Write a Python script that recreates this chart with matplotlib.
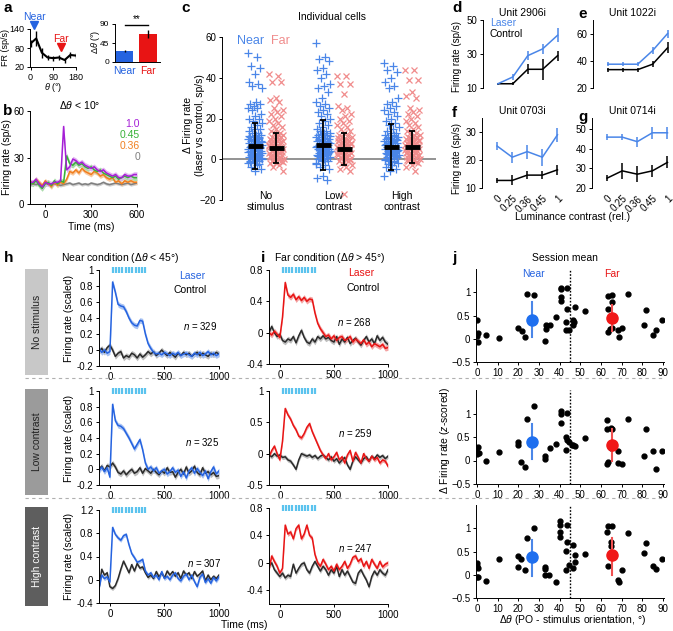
import matplotlib
matplotlib.use('Agg')
import matplotlib.pyplot as plt
from matplotlib.lines import Line2D
from matplotlib.patches import Rectangle
import numpy as np

plt.rcParams['font.family'] = ['Liberation Sans', 'DejaVu Sans']
plt.rcParams['mathtext.fontset'] = 'custom'
plt.rcParams['mathtext.rm'] = 'Liberation Sans'
plt.rcParams['mathtext.it'] = 'Liberation Sans:italic'

# colours
BLUE = '#2563E0'
BLUE_L = '#A9C3F3'
RED = '#E81414'
RED_L = '#F4A3A3'
PINK = '#F08C8C'
CBLUE = '#4A86E8'
GREY_L = '#BEBEBE'
CYAN = '#5BC3EE'

# ── data: panel a ───────────────────────────────────────
a_theta = [0, 22.5, 45, 67.5, 90, 112.5, 135, 157.5, 180]
a_fr = [94, 110, 65, 50, 48, 50, 42, 58, 56]
a_fr_err = [10, 25, 15, 8, 8, 8, 8, 10, 8]
a_groups = ['Near', 'Far']
a_dtheta = [26.5, 66.5]
a_dtheta_err = [2, 10]

# ── data: panel b ───────────────────────────────────────
b_time = list(range(-100, 601, 20))
b_labels = ['1.0', '0.45', '0.36', '0']
b_colors = ['#A51FD6', '#38B238', '#F07F1F', '#7F7F7F']
b_band = ['#E3B3F2', '#A9DDA9', '#F8C9A0', '#CFCFCF']
b_sem = [1.8, 1.8, 1.5, 1.0]
b_rates = [
    [14, 14, 16, 13, 11, 14, 13, 13, 14, 14, 15, 50, 22, 24, 29, 28, 26, 27,
     25, 24, 23, 24, 22, 21, 22, 20, 19, 18, 19, 17, 17, 19, 18, 18, 19, 19],
    [14, 13, 15, 12, 10, 13, 14, 12, 15, 13, 15, 14, 31, 26, 25, 27, 25, 26,
     24, 23, 24, 22, 21, 22, 20, 19, 18, 17, 18, 16, 17, 18, 17, 18, 17, 17],
    [15, 13, 16, 14, 12, 15, 13, 11, 14, 12, 14, 13, 16, 21, 20, 22, 20, 23,
     21, 20, 19, 21, 20, 18, 19, 17, 16, 17, 14, 15, 13, 15, 14, 15, 14, 14],
    [12, 13, 12.5, 13, 12, 13.5, 12.5, 12, 13, 12.5, 12, 12.5, 13, 13.5, 12.5, 13, 13.5, 12.5,
     13, 12.5, 13.5, 13, 12.5, 13, 14, 13, 12.5, 13, 13.5, 13, 12.5, 13, 13.5, 12.5, 13, 13.5],
]

# ── data: panel c ───────────────────────────────────────
c_conditions = ['No\nstimulus', 'Low\ncontrast', 'High\ncontrast']
c_near = [
    [52, 50, 46, 45, 42, 38, 37, 36, 35, 28, 27, 27, 26, 25, 25, 24, 22, 21, 20, 20, 19, 18,
     17, 16, 15, 15, 14, 13, 13, 12, 12, 11, 11, 10, 10, 10, 9, 9, 8, 8, 8, 7, 7, 7, 6, 6, 6,
     5, 5, 5, 4, 4, 4, 3, 3, 3, 2, 2, 2, 1, 1, 1, 0, 0, 0, -1, -1, -2, -2, -3, -4, -5, -6,
     11.5, 10.5, 9.5, 8.5, 7.5, 6.5, 5.5, 4.5, 3.5, 2.5, 1.5, 0.5, -0.5, -1.5, -2.5],
    [57, 50, 49, 48, 45, 44, 42, 40, 37, 36, 35, 33, 30, 28, 27, 26, 25, 24, 23, 22, 21, 20,
     19, 18, 17, 16, 15, 14, 14, 13, 13, 12, 12, 11, 11, 10, 10, 10, 9, 9, 9, 8, 8, 8, 7, 7,
     7, 6, 6, 6, 5, 5, 5, 4, 4, 4, 3, 3, 3, 2, 2, 2, 1, 1, 0, 0, -1, -1, -2, -3, -4, -5, -8,
     -9, -10, 12.5, 11.5, 10.5, 9.5, 8.5, 7.5, 6.5, 5.5, 4.5, 3.5, 2.5, 1.5, 0.5, -0.5, -2.5],
    [47, 46, 44, 43, 40, 38, 36, 35, 30, 28, 27, 26, 25, 24, 23, 22, 21, 20, 19, 18, 17, 16,
     15, 14, 13, 13, 12, 12, 11, 11, 10, 10, 10, 9, 9, 9, 8, 8, 8, 7, 7, 7, 6, 6, 6, 5, 5, 5,
     4, 4, 4, 3, 3, 3, 2, 2, 2, 1, 1, 0, 0, -1, -1, -2, -3, -4, -5, -6, -8,
     11.5, 10.5, 9.5, 8.5, 7.5, 6.5, 5.5, 4.5, 3.5, 2.5, 1.5, 0.5, -0.5, -1.5, -2.5],
]
c_far = [
    [42, 41, 38, 38, 30, 29, 28, 25, 24, 23, 22, 21, 20, 19, 18, 17, 16, 15, 14, 13, 13, 12,
     12, 11, 11, 10, 10, 10, 9, 9, 9, 8, 8, 8, 7, 7, 7, 6, 6, 6, 5, 5, 5, 4, 4, 4, 3, 3, 3,
     2, 2, 2, 1, 1, 1, 0, 0, -1, -1, -2, -2, -3, -4, -6,
     10.5, 9.5, 8.5, 7.5, 6.5, 5.5, 4.5, 3.5, 2.5, 1.5, 0.5, -0.5, -1.5],
    [41, 41, 37, 37, 32, 26, 25, 24, 22, 21, 20, 19, 18, 17, 16, 15, 14, 13, 12, 12, 11, 11,
     10, 10, 9, 9, 9, 8, 8, 8, 7, 7, 7, 6, 6, 6, 5, 5, 5, 4, 4, 4, 3, 3, 3, 2, 2, 2, 1, 1,
     0, 0, -1, -1, -2, -3, -4, -5, -6, -17,
     10.5, 9.5, 8.5, 7.5, 6.5, 5.5, 4.5, 3.5, 2.5, 1.5, 0.5, -0.5, -1.5],
    [44, 44, 39, 39, 33, 31, 30, 25, 24, 23, 22, 21, 20, 19, 18, 17, 16, 15, 14, 13, 13, 12,
     12, 11, 11, 10, 10, 10, 9, 9, 9, 8, 8, 8, 7, 7, 7, 6, 6, 6, 5, 5, 5, 4, 4, 4, 3, 3, 3,
     2, 2, 2, 1, 1, 0, 0, -1, -1, -2, -3, -4, -6,
     10.5, 9.5, 8.5, 7.5, 6.5, 5.5, 4.5, 3.5, 2.5, 1.5, 0.5, -0.5, -1.5],
]
c_near_mean = [6.5, 7.0, 6.0]
c_near_sd = [11.5, 12.5, 11.5]
c_far_mean = [5.5, 5.0, 6.0]
c_far_sd = [7.5, 8.0, 8.0]

# ── data: panels d-g ────────────────────────────────────
lum_labels = ['0', '0.25', '0.36', '0.45', '1']
units = ['Unit 2906i', 'Unit 1022i', 'Unit 0703i', 'Unit 0714i']
unit_laser = [[12.5, 16.5, 29, 33, 41], [37.5, 37.5, 37.5, 47.5, 60],
              [25, 21, 23, 21, 29], [45.8, 45.8, 43.5, 48, 48]]
unit_laser_err = [[0.5, 1.5, 2.5, 3, 4], [1.5, 1.5, 1.5, 2.5, 3],
                  [1.5, 2, 2.5, 3, 2.5], [1.5, 1.5, 2.5, 3, 3]]
unit_ctrl = [[12.5, 12.5, 21, 21, 29], [33.5, 33.5, 33.5, 37.5, 49.5],
             [12.7, 12.7, 14.6, 14.6, 16.5], [25, 28.7, 27, 28.7, 33]]
unit_ctrl_err = [[0.7, 1, 3, 6, 3], [1.5, 1.5, 1.5, 2, 4],
                 [1, 1.8, 1.5, 1.5, 1.8], [1.5, 4, 4, 3, 3]]
unit_ylim = [(10, 50), (20, 70), (10, 35), (20, 55.5)]
unit_yticks = [[10, 30, 50], [20, 40, 60], [10, 20, 30], [20, 30, 40, 50]]

# ── data: panels h, i (population PSTHs) ────────────────
psth_time = list(range(-100, 1001, 25))
row_names = ['No stimulus', 'Low contrast', 'High contrast']
near_n = [329, 325, 307]
far_n = [268, 259, 247]
laser_pulses = [25, 55, 85, 115, 145, 175, 205, 235, 265, 295, 325]
near_laser = [
    [0.02, -0.03, 0.0, -0.04, -0.02, 0.85, 0.72, 0.57, 0.55, 0.54, 0.48, 0.40, 0.34, 0.31,
     0.30, 0.37, 0.36, 0.20, 0.08, 0.02, -0.03, -0.05, -0.04, -0.06, -0.03, -0.05, -0.07,
     -0.04, -0.06, -0.03, -0.07, -0.05, -0.04, -0.06, -0.08, -0.04, -0.06, -0.03, -0.07,
     -0.05, -0.02, -0.06, -0.04, -0.07, -0.05],
    [-0.02, 0.03, -0.03, 0.02, -0.10, 0.83, 0.62, 0.56, 0.55, 0.52, 0.46, 0.40, 0.33, 0.26,
     0.32, 0.38, 0.25, 0.08, 0.0, 0.03, -0.02, 0.02, -0.05, -0.02, 0.0, -0.06, -0.03, 0.02,
     -0.04, -0.01, -0.09, -0.03, -0.11, -0.02, 0.02, -0.05, 0.01, -0.04, -0.08, -0.02,
     -0.12, -0.03, 0.03, -0.06, -0.02],
    [-0.15, 0.08, 0.02, 0.05, -0.04, 0.90, 0.78, 0.72, 0.68, 0.76, 0.78, 0.60, 0.45, 0.38,
     0.30, 0.32, 0.35, 0.15, 0.08, 0.12, 0.04, 0.08, 0.0, 0.14, 0.02, 0.06, 0.0, 0.08, 0.12,
     0.02, -0.02, 0.06, 0.10, 0.0, 0.08, -0.03, -0.12, 0.04, 0.10, -0.05, 0.02, -0.06, 0.04,
     -0.02, 0.05],
]
near_ctrl = [
    [-0.02, 0.02, -0.03, 0.03, 0.06, 0.0, -0.08, -0.04, -0.02, -0.10, -0.07, -0.09, -0.04,
     -0.06, -0.10, -0.05, -0.09, -0.06, -0.02, -0.05, -0.02, -0.07, -0.04, 0.0, -0.04,
     -0.07, -0.03, -0.06, -0.09, -0.04, -0.07, -0.03, -0.06, -0.04, -0.08, -0.05, -0.03,
     -0.07, -0.04, -0.06, -0.08, -0.04, -0.06, -0.03, -0.05],
    [0.0, 0.04, -0.02, 0.05, 0.03, 0.08, 0.03, -0.04, -0.06, -0.02, -0.07, -0.03, 0.0, -0.05,
     -0.03, 0.02, -0.05, 0.01, -0.02, -0.05, 0.0, -0.04, -0.07, -0.02, -0.05, 0.02, -0.04,
     -0.03, -0.10, -0.04, 0.0, -0.06, 0.03, -0.05, -0.02, 0.04, -0.04, -0.07, 0.02, -0.05,
     -0.03, -0.07, -0.04, -0.09, -0.08],
    [-0.15, 0.18, 0.08, 0.12, -0.12, -0.15, -0.10, 0.02, 0.18, 0.32, 0.22, 0.12, 0.26, 0.15,
     0.28, 0.20, 0.22, 0.12, 0.04, 0.08, 0.02, 0.14, 0.05, 0.12, 0.03, 0.15, 0.08, 0.14, 0.06,
     0.12, 0.02, 0.15, 0.08, 0.12, 0.02, 0.14, 0.06, 0.10, 0.15, -0.02, 0.08, 0.0, 0.06,
     0.02, 0.08],
]
far_laser = [
    [0.0, -0.03, 0.02, -0.02, -0.06, 0.20, 0.64, 0.48, 0.45, 0.49, 0.42, 0.46, 0.41, 0.45,
     0.40, 0.43, 0.42, 0.25, 0.12, 0.05, 0.0, -0.05, -0.03, -0.08, -0.04, -0.10, -0.06,
     -0.05, -0.10, -0.08, -0.05, -0.12, -0.08, -0.11, -0.14, -0.09, -0.15, -0.12, -0.18,
     -0.14, -0.16, -0.18, -0.15, -0.20, -0.19],
    [-0.05, 0.05, 0.12, 0.0, -0.10, 0.20, 0.72, 0.62, 0.55, 0.45, 0.38, 0.28, 0.25, 0.32,
     0.42, 0.48, 0.35, 0.25, 0.15, 0.05, -0.02, -0.08, 0.0, -0.10, -0.05, 0.02, -0.10,
     -0.05, -0.15, -0.02, 0.05, -0.12, 0.02, -0.06, -0.15, 0.0, -0.08, -0.12, -0.04, -0.10,
     -0.06, -0.15, -0.10, -0.12, -0.20],
    [-0.10, 0.10, 0.02, -0.05, -0.15, -0.08, 0.55, 0.42, 0.45, 0.35, 0.50, 0.55, 0.35, 0.42,
     0.55, 0.40, 0.36, 0.12, 0.0, -0.05, 0.05, -0.02, -0.10, -0.05, -0.12, -0.02, -0.10,
     -0.05, 0.02, -0.08, -0.02, 0.08, 0.10, 0.02, 0.06, -0.05, 0.02, -0.08, 0.05, -0.02,
     -0.08, 0.02, -0.06, -0.02, 0.0],
]
far_ctrl = [
    [0.0, 0.08, 0.0, -0.05, -0.02, -0.10, -0.12, -0.08, -0.10, -0.05, -0.13, -0.04, 0.03,
     -0.06, -0.12, -0.14, -0.08, -0.12, -0.05, -0.08, -0.04, -0.08, -0.06, -0.10, -0.12,
     -0.05, -0.15, -0.08, -0.12, -0.06, -0.14, -0.10, -0.07, -0.12, -0.16, -0.10, -0.05,
     -0.12, -0.08, -0.14, -0.04, -0.10, -0.06, -0.12, -0.15],
    [-0.02, -0.05, 0.0, -0.04, -0.02, -0.06, -0.05, -0.10, -0.12, -0.18, -0.25, -0.10, 0.0,
     -0.02, -0.04, -0.02, -0.06, -0.03, -0.08, -0.04, -0.02, -0.06, -0.10, -0.05, -0.12,
     -0.08, -0.15, -0.10, -0.06, -0.18, -0.25, -0.12, -0.05, -0.10, -0.15, -0.08, -0.05,
     -0.12, -0.04, -0.08, -0.02, -0.06, -0.03, -0.08, -0.04],
    [-0.05, 0.0, -0.10, -0.15, -0.20, -0.15, -0.22, -0.18, -0.20, -0.02, -0.15, -0.08, -0.02,
     0.0, -0.10, -0.15, -0.05, 0.02, -0.05, -0.12, -0.05, -0.10, -0.18, -0.10, -0.15, -0.05,
     -0.20, -0.10, -0.18, -0.12, -0.20, -0.28, -0.30, -0.15, -0.10, -0.18, -0.25, -0.35,
     -0.20, -0.12, -0.18, -0.10, -0.15, -0.18, -0.10],
]
psth_sem = 0.035
near_ylim = [(-0.2, 1.0), (-0.2, 1.0), (-0.4, 1.2)]
near_yticks = [[-0.2, 0, 0.2, 0.4, 0.6, 0.8, 1], [-0.2, 0, 0.2, 0.4, 0.6, 0.8, 1],
               [-0.4, 0, 0.4, 0.8, 1.2]]
far_ylim = [(-0.4, 0.8), (-0.5, 1.0), (-0.6, 0.8)]
far_yticks = [[-0.4, 0, 0.4, 0.8], [-0.5, 0, 0.5, 1], [-0.4, 0, 0.4, 0.8]]

# ── data: panel j (session means) ───────────────────────
j_dtheta = [
    [0, 0.3, 0, 0.5, 4.5, 10.7, 19.8, 21.6, 23.3, 24.3, 27.6, 33, 33.2, 33.2, 35.5, 38,
     40.7, 40.7, 40.7, 40.7, 43.5, 43.5, 43, 43, 44.7, 46.3, 46.6, 47, 47.6, 52.4, 63.3,
     63.6, 63.6, 64.4, 65.5, 65.5, 65.2, 68.4, 68.7, 70, 73, 80.7, 81.6, 85.3, 86.6, 89.6],
    [0, 0, 0.3, 0.8, 4.3, 10.4, 19.8, 19.8, 21.4, 23.2, 24, 27.5, 33, 33, 35.1, 38, 40.7,
     40.7, 40.7, 43.5, 43, 43, 43.5, 44.7, 45.8, 46.6, 47.4, 52.4, 63.1, 63.1, 63.1, 63.6,
     65, 65, 65.5, 68.4, 68.2, 70, 73, 80.7, 81.6, 85.3, 86.6, 89.6],
    [0, 0, 0.3, 0, 0.6, 4.3, 10.4, 19.7, 19.7, 21.4, 23, 24, 27.5, 32.9, 32.9, 32.9, 35, 38,
     40.4, 40.4, 40.4, 40.4, 43, 43.5, 43.5, 43.2, 44.7, 46.3, 46.6, 47.4, 47.4, 52.4, 63.1,
     63.4, 63.6, 65.5, 65, 65, 68, 68.7, 70, 73, 80.7, 81.6, 85.3, 86.6, 89.6],
]
j_dfr = [
    [0.4, 0.13, 0.06, -0.07, 0.07, 0.02, 0.23, 0.16, 0.04, 0.96, 0.94, -0.04, 0.3, 0.2,
     0.29, 0.46, 1.1, 1.07, 0.89, 0.82, 1.09, 0.65, 0.35, 0.18, 0.18, 0.4, 0.29, 0.36, 0.69,
     0.59, 0.14, 0.65, 0.91, 0.2, 0.23, 0.94, 0.8, 0.18, 0.04, 0.23, 0.96, 0.29, 0.62, 0.07,
     0.18, 0.41],
    [0.18, 0.13, 0.28, 0.15, 0.0, 0.18, 0.4, 0.33, -0.03, -0.13, 0.88, 1.17, 0.1, 0.03, 0.27,
     0.35, 1.05, 1.0, 0.8, 1.01, 0.5, 0.22, 0.43, 0.4, 0.34, 0.33, 0.3, 0.47, 0.87, 0.68,
     -0.08, -0.03, 0.7, 0.26, 0.68, 0.2, -0.05, -0.08, 0.88, 0.09, 0.66, 0.21, -0.18, 0.2],
    [0.25, 0.19, 0.14, -0.04, -0.05, -0.13, 0.33, 0.4, 0.16, 0.33, 0.1, 0.79, 1.0, 0.16, 0.12,
     0.0, -0.01, -0.16, 1.15, 1.08, 0.92, 0.82, 0.51, 1.06, 0.7, 0.11, 0.2, 0.14, 0.63, 0.27,
     0.42, 0.44, 0.92, 1.04, 0.18, 1.04, 0.7, 0.61, -0.12, -0.15, 0.11, 0.89, 0.47, 0.68,
     0.19, 0.13, 0.34],
]
j_near_x = [26.8, 26.4, 26.4]
j_near_mean = [0.41, 0.40, 0.39]
j_near_lo = [0.04, 0.03, -0.02]
j_near_hi = [0.80, 0.77, 0.75]
j_far_x = [65.5, 65.2, 65.2]
j_far_mean = [0.45, 0.33, 0.42]
j_far_lo = [0.16, 0.0, 0.0]
j_far_hi = [0.72, 0.66, 0.79]

# ── figure helpers ──────────────────────────────────────
W, H = 673, 631
fig = plt.figure(figsize=(W / 100, H / 100), dpi=100)


def px_ax(l, t, r, b):
    return fig.add_axes([l / W, 1 - b / H, (r - l) / W, (b - t) / H])


def ftext(x, y, s, **kw):
    kw.setdefault('ha', 'center')
    kw.setdefault('va', 'center')
    kw.setdefault('fontsize', 7.5)
    fig.text(x / W, 1 - y / H, s, **kw)


def style(ax, bottom=True, size=7):
    for s in ['top', 'right']:
        ax.spines[s].set_visible(False)
    if not bottom:
        ax.spines['bottom'].set_visible(False)
    for s in ['left', 'bottom']:
        ax.spines[s].set_linewidth(0.7)
    ax.tick_params(direction='out', length=2.5, width=0.7, labelsize=size, pad=1.5)


def letter(x, y, s):
    ftext(x, y, s, fontsize=11, fontweight='bold', ha='left')


# ── a ──────────────────────────────────────────────────
ax = px_ax(30, 29, 76, 67)
style(ax, size=6.5)
ax.errorbar(a_theta, a_fr, yerr=a_fr_err, color='k', lw=1.5, elinewidth=1, capsize=0)
ax.set_xlim(-2, 180)
ax.set_ylim(20, 140)
ax.set_xticks([0, 90, 180])
ax.set_yticks([20, 80, 140])
ax.plot([12], [153], 'v', color=BLUE, ms=6, clip_on=False)
ax.text(14, 178, 'Near', color=BLUE, fontsize=7.5, ha='center', va='center')
ax.plot([121], [83], 'v', color=RED, ms=6, clip_on=False)
ax.text(121, 108, 'Far', color=RED, fontsize=7.5, ha='center', va='center')
ftext(53, 87, r'$\it{\theta}$ (°)', fontsize=6.5)
ftext(6, 48, 'FR (sp/s)', rotation=90, fontsize=6.5)

ax = px_ax(115, 24, 160, 62)
style(ax, size=6)
ax.bar([0, 1], a_dtheta, width=0.74, color=[BLUE, RED], yerr=a_dtheta_err,
       error_kw=dict(ecolor='k', elinewidth=1, capsize=0))
ax.set_xlim(-0.43, 1.52)
ax.set_ylim(0, 90)
ax.set_yticks([0, 45, 90])
ax.set_xticks([0, 1])
ax.set_xticklabels(a_groups, fontsize=7.5)
ax.tick_params(axis='x', length=0, pad=3)
for lab, c in zip(ax.get_xticklabels(), [BLUE, RED]):
    lab.set_color(c)
ax.plot([0, 1], [88, 88], color='k', lw=1, clip_on=False)
ax.text(0.5, 89, '**', ha='center', va='bottom', fontsize=7)
ftext(95, 42, r'$\Delta\it{\theta}$ (°)', rotation=90, fontsize=6.5)

# ── b ──────────────────────────────────────────────────
ax = px_ax(30, 111, 137, 204)
style(ax)
for rate, col, band, sem in zip(b_rates[::-1], b_colors[::-1], b_band[::-1], b_sem[::-1]):
    r = np.array(rate, dtype=float)
    ax.fill_between(b_time, r - sem, r + sem, color=band, lw=0)
    ax.plot(b_time, r, color=col, lw=1.1)
ax.set_xlim(-100, 600)
ax.set_ylim(0, 60)
ax.set_xticks([0, 300, 600])
ax.set_yticks([0, 30, 60])
for k, (lab, col) in enumerate(zip(b_labels, b_colors)):
    ftext(140, 124 + 11 * k, lab, color=col, ha='right', fontsize=7.5)
ftext(80, 105, r'$\Delta\it{\theta}$ < 10°', fontsize=7.5)
ftext(91, 227, 'Time (ms)', fontsize=7.5)
ftext(7, 157, 'Firing rate (sp/s)', rotation=90, fontsize=7.5)

# ── c ──────────────────────────────────────────────────
ax = px_ax(222, 37, 436, 200)
style(ax, bottom=False)
ax.axhline(0, color='#808080', lw=1.2, zorder=0)
offset, half_w = 0.155, 0.11
for k in range(3):
    for vals, dx, col, mk, ms in [(c_near[k], -offset, CBLUE, '+', 5.5),
                                  (c_far[k], offset, PINK, 'x', 4.5)]:
        n = len(vals)
        jit = [((i * 0.618034) % 1 - 0.5) * 2 * half_w for i in range(n)]
        xs = [k + 1 + dx + j for j in jit]
        ax.plot(xs, vals, mk, color=col, ms=ms, mew=0.9, ls='none')
    for mean, sd, dx in [(c_near_mean[k], c_near_sd[k], -offset),
                         (c_far_mean[k], c_far_sd[k], offset)]:
        ax.errorbar([k + 1 + dx], [mean], yerr=[sd], color='k', lw=1.3, capsize=2.5,
                    capthick=1.3, zorder=5)
        ax.plot([k + 1 + dx - half_w, k + 1 + dx + half_w], [mean, mean], color='k',
                lw=3.5, solid_capstyle='butt', zorder=6)
    ax.text(k + 1 + 0.0, -15.5, c_conditions[k], ha='center', va='top', fontsize=7.5,
            linespacing=1.1)
ax.set_xlim(0.36, 3.5)
ax.set_ylim(-20, 60)
ax.set_xticks([])
ax.set_yticks([-20, 0, 20, 40, 60])
ax.text(0.78, 58, 'Near', color=CBLUE, fontsize=9, ha='center', va='center')
ax.text(1.22, 58, 'Far', color=PINK, fontsize=9, ha='center', va='center')
ftext(332, 17, 'Individual cells', fontsize=7.5)
ftext(194, 125, 'Δ Firing rate\n(laser vs control, sp/s)', rotation=90, fontsize=7.5)

# ── d-g ────────────────────────────────────────────────
unit_boxes = [(483, 20, 562, 88), (593, 20, 672, 88), (482, 118, 562, 188), (592, 118, 672, 188)]
idx = list(range(len(lum_labels)))
for u, box in enumerate(unit_boxes):
    ax = px_ax(*box)
    style(ax, bottom=False)
    ax.errorbar(idx, unit_ctrl[u], yerr=unit_ctrl_err[u], color='k', lw=1.1, elinewidth=1.1,
                capsize=0)
    ax.errorbar(idx, unit_laser[u], yerr=unit_laser_err[u], color=CBLUE, lw=1.1,
                elinewidth=1.1, capsize=0)
    ax.set_xlim(-1, 4.3)
    ax.set_ylim(*unit_ylim[u])
    ax.set_yticks(unit_yticks[u])
    ax.set_xticks(idx)
    if u >= 2:
        ax.set_xticklabels(lum_labels, rotation=45, ha='right', rotation_mode='anchor',
                           fontsize=7)
        ax.tick_params(axis='x', length=0, pad=4)
    else:
        ax.set_xticklabels([])
        ax.tick_params(axis='x', length=0)
    ax.set_title(units[u], fontsize=7.5, pad=3)
ftext(490, 23, 'Laser', color=CBLUE, ha='left', fontsize=7.5)
ftext(490, 34, 'Control', color='k', ha='left', fontsize=7.5)
ftext(457, 56, 'Firing rate (sp/s)', rotation=90, fontsize=7)
ftext(457, 158, 'Firing rate (sp/s)', rotation=90, fontsize=7)
ftext(573, 217, 'Luminance contrast (rel.)', fontsize=7.5)

# ── h, i, j rows ───────────────────────────────────────
row_tb = [(270, 366), (391, 485), (510, 603)]
far_tb = [(270, 364), (391, 485), (508, 604)]
j_tb = [(269, 362), (390, 484), (505, 598)]
box_tb = [(269, 375), (389, 495), (507, 606)]
box_col = ['#C8C8C8', '#9B9B9B', '#5E5E5E']
box_txt = ['#222222', '#222222', 'white']
near_n_xy = [(0.84, 0.42), (0.86, 0.46), (0.88, 0.43)]
far_n_xy = [(0.72, 0.45), (0.72, 0.55), (0.72, 0.58)]

for r in range(3):
    # grey row label box
    bt, bb = box_tb[r]
    fig.patches.append(Rectangle((25 / W, 1 - bb / H), 23 / W, (bb - bt) / H,
                                 transform=fig.transFigure, color=box_col[r], lw=0))
    ftext(36.5, (bt + bb) / 2, row_names[r], rotation=90, color=box_txt[r], fontsize=7.5)

    for side in range(2):
        if side == 0:
            t, b = row_tb[r]
            ax = px_ax(99, t, 219, b)
            las, ctl, lc, lb = near_laser[r], near_ctrl[r], BLUE, BLUE_L
            ylim, yt = near_ylim[r], near_yticks[r]
            nxy, ntxt = near_n_xy[r], near_n[r]
        else:
            t, b = far_tb[r]
            ax = px_ax(269, t, 388, b)
            las, ctl, lc, lb = far_laser[r], far_ctrl[r], RED, RED_L
            ylim, yt = far_ylim[r], far_yticks[r]
            nxy, ntxt = far_n_xy[r], far_n[r]
        style(ax)
        ctl_a = np.array(ctl)
        las_a = np.array(las)
        ax.fill_between(psth_time, ctl_a - psth_sem, ctl_a + psth_sem, color=GREY_L, lw=0)
        ax.fill_between(psth_time, las_a - psth_sem, las_a + psth_sem, color=lb, lw=0)
        ax.plot(psth_time, ctl_a, color='#2A2A2A', lw=1.1)
        ax.plot(psth_time, las_a, color=lc, lw=1.1)
        ax.plot(laser_pulses, [ylim[1]] * len(laser_pulses), '|', color=CYAN, ms=5,
                mew=1.6, clip_on=False)
        ax.set_xlim(-100, 1000)
        ax.set_ylim(*ylim)
        ax.set_yticks(yt)
        ax.set_yticklabels(['%g' % v for v in yt])
        ax.set_xticks([0, 500, 1000])
        ax.text(nxy[0], nxy[1], '$\\it{n}$ = %d' % ntxt, transform=ax.transAxes,
                ha='center', va='center', fontsize=7)
        if side == 0:
            ax.set_ylabel('Firing rate (scaled)', fontsize=7.5, labelpad=2)

    # j
    t, b = j_tb[r]
    ax = px_ax(476, t, 664, b)
    style(ax)
    ax.axvline(45, color='k', ls=(0, (1.2, 1.2)), lw=1)
    ax.plot(j_dtheta[r], j_dfr[r], 'o', color='k', ms=3.5, ls='none')
    ax.plot([j_near_x[r]] * 2, [j_near_lo[r], j_near_hi[r]], color=CBLUE, lw=1.5)
    ax.plot([j_near_x[r]], [j_near_mean[r]], 'o', color='#1E6FEF', ms=8)
    ax.plot([j_far_x[r]] * 2, [j_far_lo[r], j_far_hi[r]], color='#F05050', lw=1.5)
    ax.plot([j_far_x[r]], [j_far_mean[r]], 'o', color='#F01818', ms=8)
    ax.set_xlim(-0.5, 90.5)
    ax.set_ylim(-0.5, 1.5)
    ax.set_yticks([-0.5, 0, 0.5, 1])
    ax.set_yticklabels(['\u22120.5', '0', '0.5', '1'])
    ax.set_xticks(list(range(0, 91, 10)))

# row legends and titles
ftext(192, 276, 'Laser', color=BLUE, fontsize=7.5)
ftext(190, 290, 'Control', color='k', fontsize=7.5)
ftext(361, 273, 'Laser', color=RED, fontsize=7.5)
ftext(363, 288, 'Control', color='k', fontsize=7.5)
ftext(533, 274, 'Near', color=BLUE, fontsize=7.5)
ftext(612, 274, 'Far', color=RED, fontsize=7.5)
ftext(120, 258, r'Near condition ($\Delta\it{\theta}$ < 45°)', fontsize=7.5)
ftext(330, 258, r'Far condition ($\Delta\it{\theta}$ > 45°)', fontsize=7.5)
ftext(565, 258, 'Session mean', fontsize=7.5)
ftext(244, 625, 'Time (ms)', fontsize=7.5)
ftext(573, 620, r'$\Delta\it{\theta}$ (PO - stimulus orientation, °)', fontsize=7.5)
ftext(445, 440, r'Δ Firing rate ($\it{z}$-scored)', rotation=90, fontsize=7.5)

for y in [378, 498]:
    fig.add_artist(Line2D([25 / W, 662 / W], [1 - y / H] * 2, color='#B0B0B0', lw=0.8,
                          ls=(0, (3, 3)), transform=fig.transFigure))

letter(3, 8, 'a')
letter(3, 111, 'b')
letter(181, 8, 'c')
letter(452, 8, 'd')
letter(578, 14, 'e')
letter(452, 113, 'f')
letter(578, 117, 'g')
letter(4, 258, 'h')
letter(261, 258, 'i')
letter(452, 258, 'j')

fig.savefig('out.png', dpi=100)
